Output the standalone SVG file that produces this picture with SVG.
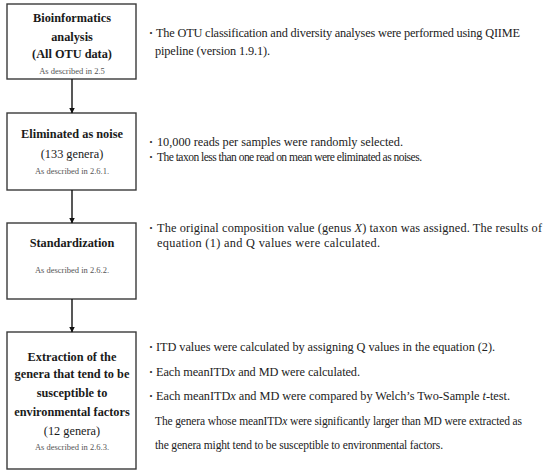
<svg xmlns="http://www.w3.org/2000/svg" width="550" height="476" viewBox="0 0 550 476">
<style>
.box{fill:#fff;stroke:#3a3a3a;stroke-width:1.4}
text{font-family:"Liberation Serif","Times New Roman",serif;fill:#1a1a1a}
.t{font-size:12.3px;font-weight:bold;text-anchor:middle}
.n{font-size:12.3px;text-anchor:middle}
.s{font-size:8.5px;text-anchor:middle;fill:#555}
.r{font-size:12.3px;fill:#222}
.rs{font-size:11.5px;fill:#222}
.b{font-family:"Noto Sans CJK JP",sans-serif;font-size:10px;fill:#333}
.c{stroke:#111;stroke-width:1.4;fill:none}
</style>
<defs>
<marker id="ah" markerWidth="6" markerHeight="6" refX="5.5" refY="3" orient="auto" markerUnits="userSpaceOnUse">
<path d="M0,0 L6,3 L0,6 Z" fill="#111"/>
</marker>
</defs>
<rect width="550" height="476" fill="#fff"/>
<g id="node1">
<rect class="box" x="7" y="4" width="129" height="75"/>
<text class="t" x="72" y="22">Bioinformatics</text>
<text class="t" x="72" y="41">analysis</text>
<text class="t" x="72" y="58">(All OTU data)</text>
<text class="s" x="72" y="74">As described in 2.5</text>
</g>
<g id="node2">
<rect class="box" x="7" y="113" width="129" height="77"/>
<text class="t" x="72" y="138">Eliminated as noise</text>
<text class="n" x="72" y="158">(133 genera)</text>
<text class="s" x="72" y="174">As described in 2.6.1.</text>
</g>
<g id="node3">
<rect class="box" x="7" y="223" width="129" height="76"/>
<text class="t" x="72" y="247">Standardization</text>
<text class="s" x="72" y="273">As described in 2.6.2.</text>
</g>
<g id="node4">
<rect class="box" x="7" y="332" width="129" height="137"/>
<text class="t" x="72" y="361">Extraction of the</text>
<text class="t" x="72" y="378">genera that tend to be</text>
<text class="t" x="72" y="397">susceptible to</text>
<text class="t" x="72" y="416">environmental factors</text>
<text class="n" x="72" y="435">(12 genera)</text>
<text class="s" x="72" y="450">As described in 2.6.3.</text>
</g>
<g id="connectors">
<line class="c" x1="72" y1="79" x2="72" y2="113" marker-end="url(#ah)"/>
<line class="c" x1="72" y1="190" x2="72" y2="223" marker-end="url(#ah)"/>
<line class="c" x1="72" y1="299" x2="72" y2="332" marker-end="url(#ah)"/>
</g>
<g id="notes">
<text class="b" x="146" y="37">・</text>
<text class="r" x="156" y="37" textLength="364" lengthAdjust="spacing">The OTU classification and diversity analyses were performed using QIIME</text>
<text class="r" x="155" y="55" textLength="115" lengthAdjust="spacing">pipeline (version 1.9.1).</text>

<text class="b" x="146" y="146">・</text>
<text class="r" x="157" y="146" textLength="246" lengthAdjust="spacing">10,000 reads per samples were randomly selected.</text>
<text class="b" x="146" y="161">・</text>
<text class="rs" x="157" y="161" textLength="265" lengthAdjust="spacing">The taxon less than one read on mean were eliminated as noises.</text>

<text class="b" x="146" y="232">・</text>
<text class="r" x="157" y="232" textLength="385" lengthAdjust="spacing">The original composition value (genus <tspan font-style="italic">X</tspan>) taxon was assigned. The results of</text>
<text class="r" x="157" y="247" textLength="223" lengthAdjust="spacing">equation (1) and Q values were calculated.</text>

<text class="b" x="146" y="351">・</text>
<text class="r" x="156" y="351" textLength="339" lengthAdjust="spacing">ITD values were calculated by assigning Q values in the equation (2).</text>
<text class="b" x="146" y="376">・</text>
<text class="r" x="156" y="376" textLength="204" lengthAdjust="spacing">Each meanITD<tspan font-style="italic">x</tspan> and MD were calculated.</text>
<text class="b" x="146" y="400">・</text>
<text class="r" x="156" y="400" textLength="354" lengthAdjust="spacing">Each meanITD<tspan font-style="italic">x</tspan> and MD were compared by Welch’s Two-Sample <tspan font-style="italic">t</tspan>-test.</text>
<text class="rs" x="155" y="425" textLength="367" lengthAdjust="spacing">The genera whose meanITD<tspan font-style="italic">x</tspan> were significantly larger than MD were extracted as</text>
<text class="rs" x="155" y="449" textLength="288" lengthAdjust="spacing">the genera might tend to be susceptible to environmental factors.</text>
</g>
</svg>
